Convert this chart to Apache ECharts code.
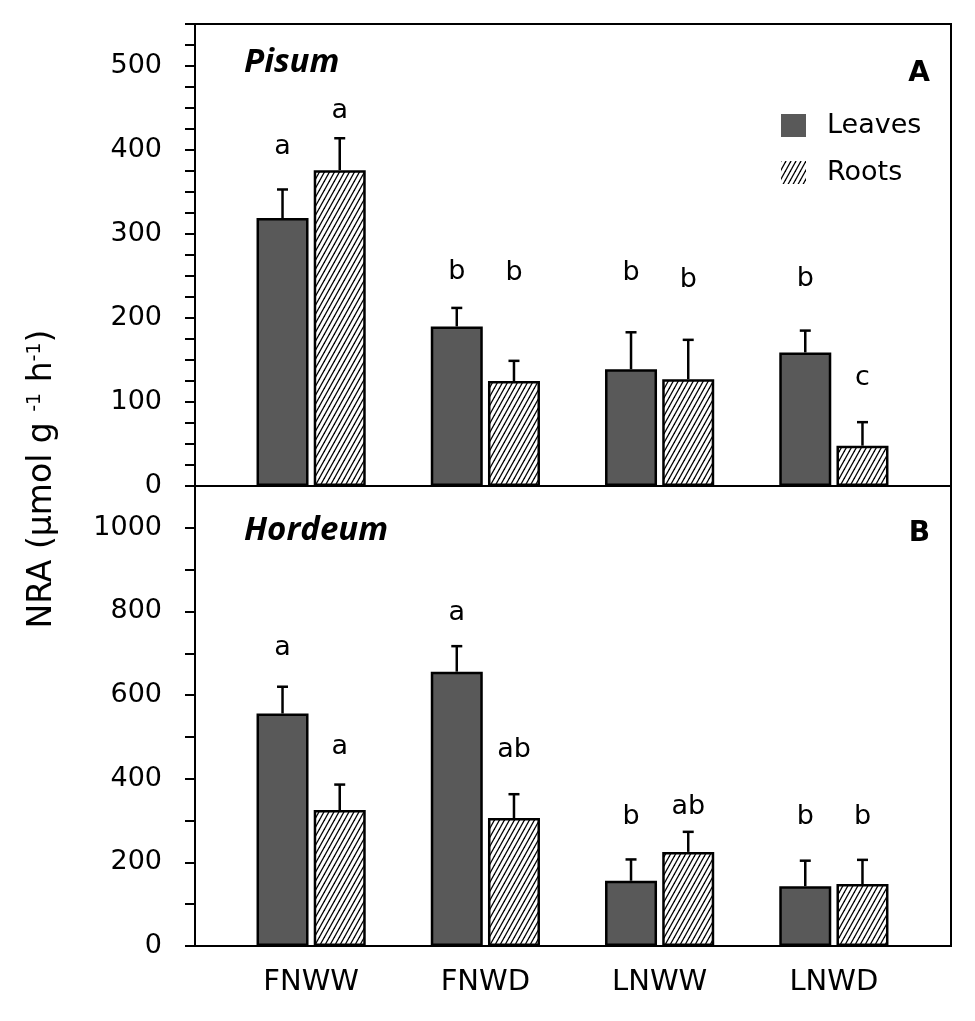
<!DOCTYPE html>
<html>
<head>
<meta charset="utf-8">
<script src="https://cdn.jsdelivr.net/npm/echarts@6/dist/echarts.min.js"></script>
<style>html,body{margin:0;padding:0;background:#fff}#c{width:975px;height:1021px}</style>
</head>
<body>
<div id="c"></div>
<script>
// ---- data ----
const categories = ['FNWW', 'FNWD', 'LNWW', 'LNWD'];

const pisumLeaves   = [319, 190, 139, 159];
const pisumLeavesSE = [34, 22, 44, 26];
const pisumRoots    = [376, 125, 127, 48];
const pisumRootsSE  = [38, 24, 47, 28];
const pisumLeavesLetters = ['a', 'b', 'b', 'b'];
const pisumLeavesLetterY = [403, 255, 253, 247];
const pisumRootsLetters  = ['a', 'b', 'b', 'c'];
const pisumRootsLetterY  = [446, 253, 245, 129];

const hordeumLeaves   = [556, 656, 156, 143];
const hordeumLeavesSE = [64, 61, 51, 61];
const hordeumRoots    = [325, 306, 225, 148];
const hordeumRootsSE  = [61, 57, 48, 58];
const hordeumLeavesLetters = ['a', 'a', 'b', 'b'];
const hordeumLeavesLetterY = [713, 796, 309, 309];
const hordeumRootsLetters  = ['a', 'ab', 'ab', 'b'];
const hordeumRootsLetterY  = [477, 469, 333, 309];

const pisumTickLabels   = [0, 100, 200, 300, 400, 500];
const hordeumTickLabels = [0, 200, 400, 600, 800, 1000];

// ---- style ----
const FONT = 'DejaVu Sans';
const LEAF_COLOR = '#595959';
const BAR_W = 52;
const BAR_GAP = 0.1;
const HALF_OFF = (BAR_W + BAR_W * BAR_GAP) / 2;

function makeHatch() {
  const w = 5, h = 9;
  const c = document.createElement('canvas');
  c.width = w; c.height = h;
  const ctx = c.getContext('2d');
  ctx.fillStyle = '#fff';
  ctx.fillRect(0, 0, w, h);
  ctx.strokeStyle = '#000';
  ctx.lineWidth = 1.3;
  for (let k = -1; k <= 1; k++) {
    ctx.beginPath();
    ctx.moveTo(k * w - w, 2 * h);
    ctx.lineTo(k * w + 2 * w, -h);
    ctx.stroke();
  }
  return c;
}
const hatch = { image: makeHatch(), repeat: 'repeat' };

function errSeries(values, se, letters, letterY, side, axisIdx) {
  return {
    type: 'custom',
    xAxisIndex: axisIdx, yAxisIndex: axisIdx,
    clip: false, silent: true, z: 5,
    data: values.map((v, i) => [i, v, v + se[i], letterY[i]]),
    renderItem: function (params, api) {
      const i = api.value(0);
      const base = api.coord([i, api.value(1)]);
      const top = api.coord([i, api.value(2)]);
      const lab = api.coord([i, api.value(3)]);
      const x = base[0] + side * HALF_OFF;
      return {
        type: 'group',
        children: [
          { type: 'line', shape: { x1: x, y1: base[1], x2: x, y2: top[1] }, style: { stroke: '#000', lineWidth: 2.5 } },
          { type: 'line', shape: { x1: x - 5.5, y1: top[1], x2: x + 5.5, y2: top[1] }, style: { stroke: '#000', lineWidth: 2.5 } },
          { type: 'text', x: x, y: lab[1], style: { text: letters[params.dataIndex], font: '27px "' + FONT + '"', fill: '#000', align: 'center', verticalAlign: 'middle' } }
        ]
      };
    }
  };
}

function barSeries(name, values, color, axisIdx) {
  return {
    name: name, type: 'bar',
    xAxisIndex: axisIdx, yAxisIndex: axisIdx,
    data: values,
    barWidth: BAR_W, barGap: (BAR_GAP * 100) + '%',
    itemStyle: { color: color, borderColor: '#000', borderWidth: 2.5 },
    emphasis: { disabled: true }
  };
}

function yAxisDef(idx, max, interval, labels) {
  return {
    type: 'value', gridIndex: idx, min: 0, max: max, interval: interval,
    offset: 29,
    axisLine: { show: false },
    axisTick: { show: true, inside: false, length: 10, lineStyle: { color: '#000', width: 2 } },
    splitLine: { show: false },
    axisLabel: {
      margin: 33, color: '#000', fontFamily: FONT, fontSize: 27,
      formatter: v => labels.indexOf(v) >= 0 ? String(v) : ''
    }
  };
}

const chart = echarts.init(document.getElementById('c'), null, { renderer: 'canvas' });
chart.setOption({
  animation: false,
  backgroundColor: '#fff',
  grid: [
    { left: 224, right: 54, top: 24, height: 462 },
    { left: 224, right: 54, top: 486, height: 460 }
  ],
  xAxis: [
    { type: 'category', gridIndex: 0, data: categories, axisLine: { show: false }, axisTick: { show: false }, axisLabel: { show: false } },
    { type: 'category', gridIndex: 1, data: categories, axisLine: { show: false }, axisTick: { show: false },
      axisLabel: { color: '#000', fontFamily: FONT, fontSize: 29, margin: 22 } }
  ],
  yAxis: [
    yAxisDef(0, 550, 25, pisumTickLabels),
    yAxisDef(1, 1100, 100, hordeumTickLabels)
  ],
  legend: {
    orient: 'vertical', left: 776, top: 107,
    itemWidth: 25, itemHeight: 23, itemGap: 20, icon: 'rect',
    itemStyle: { borderWidth: 0 },
    textStyle: { fontFamily: FONT, fontSize: 27, color: '#000', padding: [0, 0, 0, 16] },
    data: ['Leaves', 'Roots']
  },
  series: [
    barSeries('Leaves', pisumLeaves, LEAF_COLOR, 0),
    barSeries('Roots', pisumRoots, hatch, 0),
    barSeries('Leaves', hordeumLeaves, LEAF_COLOR, 1),
    barSeries('Roots', hordeumRoots, hatch, 1),
    errSeries(pisumLeaves, pisumLeavesSE, pisumLeavesLetters, pisumLeavesLetterY, -1, 0),
    errSeries(pisumRoots, pisumRootsSE, pisumRootsLetters, pisumRootsLetterY, 1, 0),
    errSeries(hordeumLeaves, hordeumLeavesSE, hordeumLeavesLetters, hordeumLeavesLetterY, -1, 1),
    errSeries(hordeumRoots, hordeumRootsSE, hordeumRootsLetters, hordeumRootsLetterY, 1, 1)
  ],
  graphic: [
    { type: 'rect', z: 100, shape: { x: 195, y: 24, width: 756, height: 462 }, style: { fill: 'none', stroke: '#000', lineWidth: 2 } },
    { type: 'rect', z: 100, shape: { x: 195, y: 486, width: 756, height: 460 }, style: { fill: 'none', stroke: '#000', lineWidth: 2 } },
    { type: 'text', x: 244, y: 63, style: { text: 'Pisum', font: 'italic bold 33px "Open Sans"', fill: '#000', verticalAlign: 'middle' } },
    { type: 'text', x: 244, y: 531, style: { text: 'Hordeum', font: 'italic bold 33px "Open Sans"', fill: '#000', verticalAlign: 'middle' } },
    { type: 'text', x: 930, y: 74, style: { text: 'A', font: 'bold 28px "' + FONT + '"', fill: '#000', align: 'right', verticalAlign: 'middle' } },
    { type: 'text', x: 930, y: 534, style: { text: 'B', font: 'bold 28px "' + FONT + '"', fill: '#000', align: 'right', verticalAlign: 'middle' } },
    { type: 'text', x: 42, y: 479, rotation: Math.PI / 2,
      style: {
        text: 'NRA (µmol g {sup|-1} h{sup|-1})',
        font: '33px "' + FONT + '"', fill: '#000', align: 'center', verticalAlign: 'middle',
        rich: { sup: { fontFamily: FONT, fontSize: 19, verticalAlign: 'top', lineHeight: 20, fill: '#000' } }
      } }
  ]
});
</script>
</body>
</html>
